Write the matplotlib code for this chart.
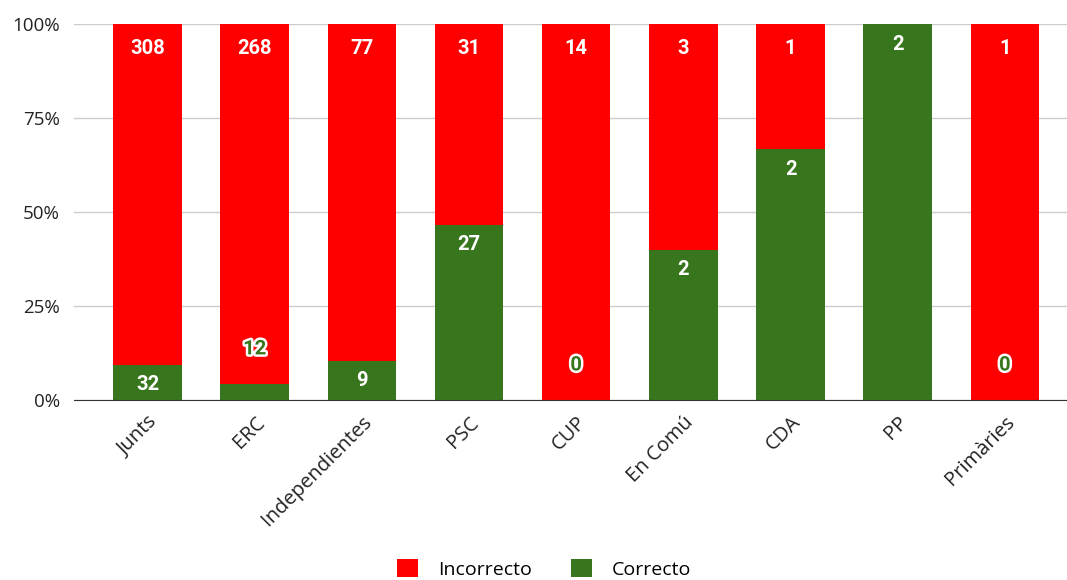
import matplotlib
matplotlib.use("Agg")
import matplotlib.pyplot as plt
import matplotlib.patheffects as pe
import numpy as np

plt.rcParams['font.family'] = ['Open Sans', 'DejaVu Sans']

# data
partidos = ["Junts", "ERC", "Independientes", "PSC", "CUP", "En Comú", "CDA", "PP", "Primàries"]
correcto = np.array([32, 12, 9, 27, 0, 2, 2, 2, 0])
incorrecto = np.array([308, 268, 77, 31, 14, 3, 1, 0, 1])

verde = "#38761d"
rojo = "#ff0000"

total = correcto + incorrecto
pc = correcto / total * 100
pi_ = incorrecto / total * 100

fig = plt.figure(figsize=(10.67, 5.8), dpi=100)
ax = fig.add_axes([74 / 1067, 1 - 400 / 580, 993 / 1067, 376 / 580])

x = np.arange(len(partidos))
w = 0.64
ax.bar(x, pc, w, color=verde, label="Correcto", zorder=2)
ax.bar(x, pi_, w, bottom=pc, color=rojo, label="Incorrecto", zorder=2)

# pixels -> data units along y
px = 100 / 376.0
lbl = dict(ha="center", va="center", fontsize=14.5, fontweight="bold",
           family=["Roboto", "DejaVu Sans"], zorder=3)
for i in range(len(partidos)):
    if incorrecto[i] > 0:
        ax.text(x[i], 100 - 25 * px, str(incorrecto[i]), color="white", **lbl)
    seg = pc[i]
    if seg > 8:
        ax.text(x[i], seg - 20 * px, str(correcto[i]), color="white", **lbl)
    else:
        ax.text(x[i], seg + 35 * px, str(correcto[i]), color=verde,
                path_effects=[pe.withStroke(linewidth=3.5, foreground="white")], **lbl)

ax.set_xlim(-0.686, len(partidos) - 1 + 0.58)
ax.set_ylim(0, 100)
ax.set_yticks([0, 25, 50, 75, 100])
ax.set_yticklabels(["0%", "25%", "50%", "75%", "100%"], fontsize=13.5, color="#222222")
ax.set_xticks(x)
ax.set_xticklabels(partidos, rotation=45, ha="right", rotation_mode="anchor",
                   fontsize=14.5, color="#222222")
ax.tick_params(axis="y", length=0, pad=10)
ax.tick_params(axis="x", length=0, pad=9)
ax.grid(axis="y", color="#cccccc", linewidth=1, zorder=0)
ax.set_axisbelow(True)
for s in ["top", "right", "left"]:
    ax.spines[s].set_visible(False)
ax.spines["bottom"].set_color("#333333")
ax.spines["bottom"].set_zorder(4)

h, l = ax.get_legend_handles_labels()
fig.legend(h[::-1], l[::-1], loc="center", bbox_to_anchor=(544 / 1067, 1 - 569 / 580),
           ncol=2, frameon=False, fontsize=14, handlelength=1.1, handleheight=1.0,
           handletextpad=1.0, columnspacing=2.0)

fig.savefig("out.png", dpi=100)
